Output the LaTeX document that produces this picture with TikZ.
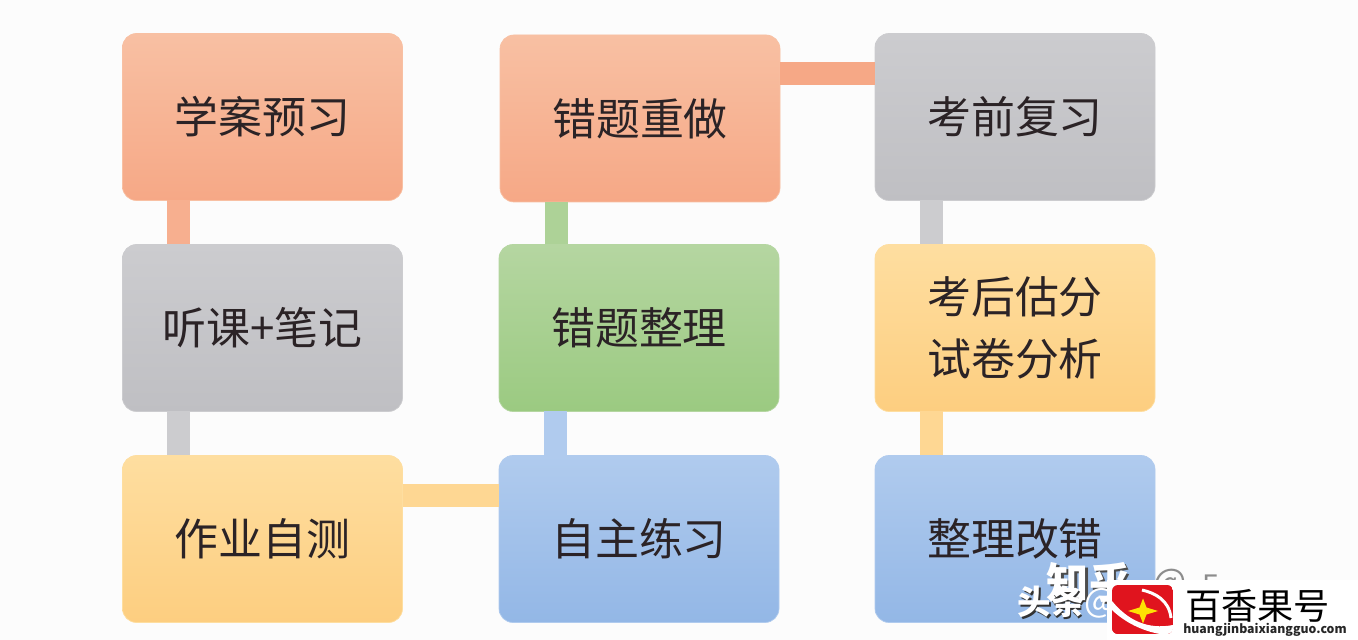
\documentclass[tikz,border=0pt]{standalone}
\usepackage{fontspec}
\setmainfont{Noto Sans CJK SC}
\usepackage{color}
\definecolor{orangeA}{HTML}{F8C0A3}
\definecolor{orangeB}{HTML}{F6A886}
\definecolor{greyA}{HTML}{CCCCCF}
\definecolor{greyB}{HTML}{BFBFC3}
\definecolor{yellowA}{HTML}{FEDEA0}
\definecolor{yellowB}{HTML}{FDCE80}
\definecolor{greenA}{HTML}{B5D6A1}
\definecolor{greenB}{HTML}{9BCA81}
\definecolor{blueA}{HTML}{B0CBEE}
\definecolor{blueB}{HTML}{93B7E6}
\definecolor{inkA}{HTML}{2B2326}
\definecolor{logoRed}{HTML}{E0141E}

\begin{document}
\begin{tikzpicture}
\tikzstyle{card}=[outer sep=0pt,minimum width=5.6cm,minimum height=3.34cm,rounded corners=0.28cm,text=inkA,font=\fontsize{25pt}{35.7pt}\selectfont,align=center,line width=0.4pt]
\tikzstyle{link}=[line width=0.46cm]

\useasboundingbox [fill=white!99!black] (0,0) rectangle (27.16,-12.8);

\node (Yuxi) [card,draw=orangeA,top color=orangeA,bottom color=orangeB] at (5.25,-2.34) {学案预习};
\node (Tingke) [card,draw=greyA,top color=greyA,bottom color=greyB] at (5.25,-6.56) {听课+笔记};
\node (Zuoye) [card,draw=yellowA,top color=yellowA,bottom color=yellowB] at (5.25,-10.78) {作业自测};

\node (Chongzuo) [card,draw=orangeA,top color=orangeA,bottom color=orangeB] at (12.8,-2.37) {错题重做};
\node (Zhengli) [card,draw=greenA,top color=greenA,bottom color=greenB] at (12.78,-6.56) {错题整理};
\node (Lianxi) [card,draw=blueA,top color=blueA,bottom color=blueB] at (12.78,-10.78) {自主练习};

\node (Fuxi) [card,draw=greyA,top color=greyA,bottom color=greyB] at (20.3,-2.34) {考前复习};
\node (Gufen) [card,draw=yellowA,top color=yellowA,bottom color=yellowB] at (20.3,-6.56) {考后估分\\试卷分析};
\node (Gaicuo) [card,draw=blueA,top color=blueA,bottom color=blueB] at (20.3,-10.78) {整理改错};

\draw [link,orangeB!70!orangeA] ([xshift=-1.68cm]Yuxi.south) -- ([xshift=-1.68cm]Yuxi.south |- Tingke.north);
\draw [link,greyA] ([xshift=-1.68cm]Tingke.south) -- ([xshift=-1.68cm]Tingke.south |- Zuoye.north);
\draw [link,yellowA!60!yellowB] ([yshift=0.87cm]Zuoye.east) -- ([yshift=0.87cm]Zuoye.east -| Lianxi.west);
\draw [link,blueA] ([xshift=-1.68cm]Lianxi.north) -- ([xshift=-1.68cm]Lianxi.north |- Zhengli.south);
\draw [link,greenA!70!greenB] ([xshift=-1.66cm]Zhengli.north) -- ([xshift=-1.66cm]Zhengli.north |- Chongzuo.south);
\draw [link,orangeB] ([yshift=0.9cm]Chongzuo.east) -- ([yshift=0.9cm]Chongzuo.east -| Fuxi.west);
\draw [link,greyA] ([xshift=-1.68cm]Fuxi.south) -- ([xshift=-1.68cm]Fuxi.south |- Gufen.north);
\draw [link,yellowA!60!yellowB] ([xshift=-1.68cm]Gufen.south) -- ([xshift=-1.68cm]Gufen.south |- Gaicuo.north);

% watermark
\node (ZhihuS) [text=black!70,font=\fontsize{24pt}{24pt}\selectfont\bfseries] at (21.83,-11.68) {知乎};
\node (Zhihu) [text=white,font=\fontsize{24pt}{24pt}\selectfont\bfseries] at (21.78,-11.64) {知乎};
\node (AtZ) [text=black!45,font=\fontsize{20pt}{20pt}\selectfont] at (23.4,-11.7) {@};
\node (FanZ) [text=black!45,font=\fontsize{16pt}{16pt}\selectfont] at (24.2,-11.7) {F};
\node (ToutiaoS) [text=black!80,font=\fontsize{19pt}{19pt}\selectfont\bfseries] at (21.05,-12.07) {头条};
\node (Toutiao) [text=white,font=\fontsize{19pt}{19pt}\selectfont\bfseries] at (21.02,-12.04) {头条};
\node (AtT) [text=white,font=\fontsize{19pt}{19pt}\selectfont] at (22,-12.06) {@};
\fill [white] (22.14,-11.6) rectangle (27.16,-12.8);

% logo
\begin{scope}
\clip [rounded corners=0.12cm] (22.24,-11.7) rectangle (23.46,-12.68);
\fill [logoRed] (22.24,-11.7) rectangle (23.46,-12.68);
\fill [white] (22.24,-12.02) .. controls (22.55,-12.4) and (22.95,-12.6) .. (23.46,-12.5) -- (23.46,-12.68) -- (23.2,-12.68) .. controls (22.85,-12.62) and (22.5,-12.45) .. (22.24,-12.2) -- cycle;
\fill [logoRed] (22.24,-12.3) .. controls (22.5,-12.5) and (22.7,-12.62) .. (23.0,-12.68) -- (22.24,-12.68) -- cycle;
\end{scope}
\draw [white,line width=0.06cm] (22.84,-11.8) .. controls (23.1,-11.86) and (23.38,-12.0) .. (23.42,-12.36);
\fill [yellow!85!orange] (22.86,-11.97) -- (22.93,-12.15) -- (23.16,-12.22) -- (22.93,-12.29) -- (22.86,-12.47) -- (22.79,-12.29) -- (22.56,-12.22) -- (22.79,-12.15) -- cycle;
\node (Brand) [text=black,font=\fontsize{20.6pt}{21pt}\selectfont] at (25.15,-12.12) {百香果号};
\node (Url) [text=black!85,font=\fontsize{7pt}{8pt}\selectfont\bfseries] at (25.3,-12.6) {huangjinbaixiangguo.com};

\end{tikzpicture}
\end{document}
